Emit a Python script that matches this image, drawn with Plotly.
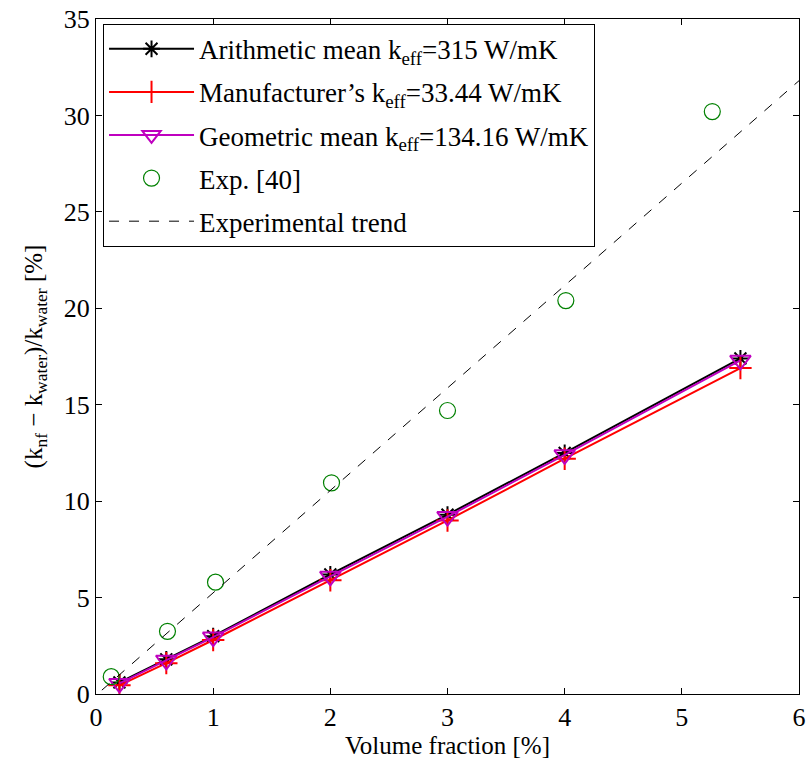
import plotly.graph_objects as go

x_model = [0.2, 0.6, 1.0, 2.0, 3.0, 4.0, 5.5]
y_arith = [0.6, 1.8, 3.0, 6.2, 9.3, 12.5, 17.4]
y_manuf = [0.45, 1.6, 2.8, 5.9, 9.0, 12.2, 16.9]
y_geom = [0.55, 1.75, 2.95, 6.1, 9.2, 12.4, 17.3]

x_exp = [0.13, 0.61, 1.02, 2.01, 3.0, 4.01, 5.26]
y_exp = [0.9, 3.25, 5.8, 10.95, 14.7, 20.4, 30.2]

x_trend = [0.05, 6.0]
y_trend = [0.2, 31.8]

FONT = "Liberation Serif"

fig = go.Figure()
fig.add_trace(go.Scatter(
    x=x_model, y=y_arith, mode="lines+markers",
    name="Arithmetic mean k<sub>eff</sub>=315 W/mK",
    line=dict(color="black", width=2),
    marker=dict(symbol="asterisk-open", size=14, color="black", line=dict(color="black", width=2)),
    legendgroup="a"))
fig.add_trace(go.Scatter(
    x=x_model, y=y_manuf, mode="lines+markers",
    name="Manufacturer\u2019s k<sub>eff</sub>=33.44 W/mK",
    line=dict(color="#ff0000", width=2),
    marker=dict(symbol="cross-thin-open", size=16, color="#ff0000", line=dict(color="#ff0000", width=2)),
    legendgroup="b"))
fig.add_trace(go.Scatter(
    x=x_model, y=y_geom, mode="lines+markers",
    name="Geometric mean k<sub>eff</sub>=134.16 W/mK",
    line=dict(color="#bf00bf", width=2),
    marker=dict(symbol="triangle-down-open", size=18, color="#bf00bf", line=dict(color="#bf00bf", width=2)),
    legendgroup="c"))
fig.add_trace(go.Scatter(
    x=x_exp, y=y_exp, mode="markers",
    name="Exp. [40]",
    marker=dict(symbol="circle-open", size=16, color="#008000", line=dict(color="#008000", width=1.2)),
    legendgroup="d"))
fig.add_trace(go.Scatter(
    x=x_trend, y=y_trend, mode="lines",
    name="Experimental trend",
    line=dict(color="black", width=1, dash="10px,10px"),
    legendgroup="e"))

axis_common = dict(
    showline=True, linecolor="black", linewidth=1, mirror="ticks",
    ticks="inside", ticklen=6, tickcolor="black", tickwidth=1,
    showgrid=False, zeroline=False, automargin=False,
    tickfont=dict(family=FONT, size=26, color="black"),
)

fig.update_xaxes(range=[0, 6], dtick=1, tick0=0,
                 title=dict(text="Volume fraction [%]", font=dict(family=FONT, size=25, color="black"), standoff=2),
                 **axis_common)
fig.update_yaxes(range=[0, 35], dtick=5, tick0=0,
                 title=dict(text="(k<sub>nf</sub> \u2212 k<sub>water</sub>)/k<sub>water</sub> [%]",
                            font=dict(family=FONT, size=25, color="black"), standoff=14),
                 **axis_common)

fig.update_layout(
    width=808, height=762,
    margin=dict(l=96, r=9, t=19, b=68),
    paper_bgcolor="white", plot_bgcolor="white",
    font=dict(family=FONT, size=26, color="black"),
    showlegend=True,
    legend=dict(x=0.01, y=0.993, xanchor="left", yanchor="top",
                bgcolor="white", bordercolor="black", borderwidth=1,
                font=dict(family=FONT, size=27, color="black"),
                itemwidth=85, tracegroupgap=5, traceorder="grouped"),
)

fig.write_html("out.html")
